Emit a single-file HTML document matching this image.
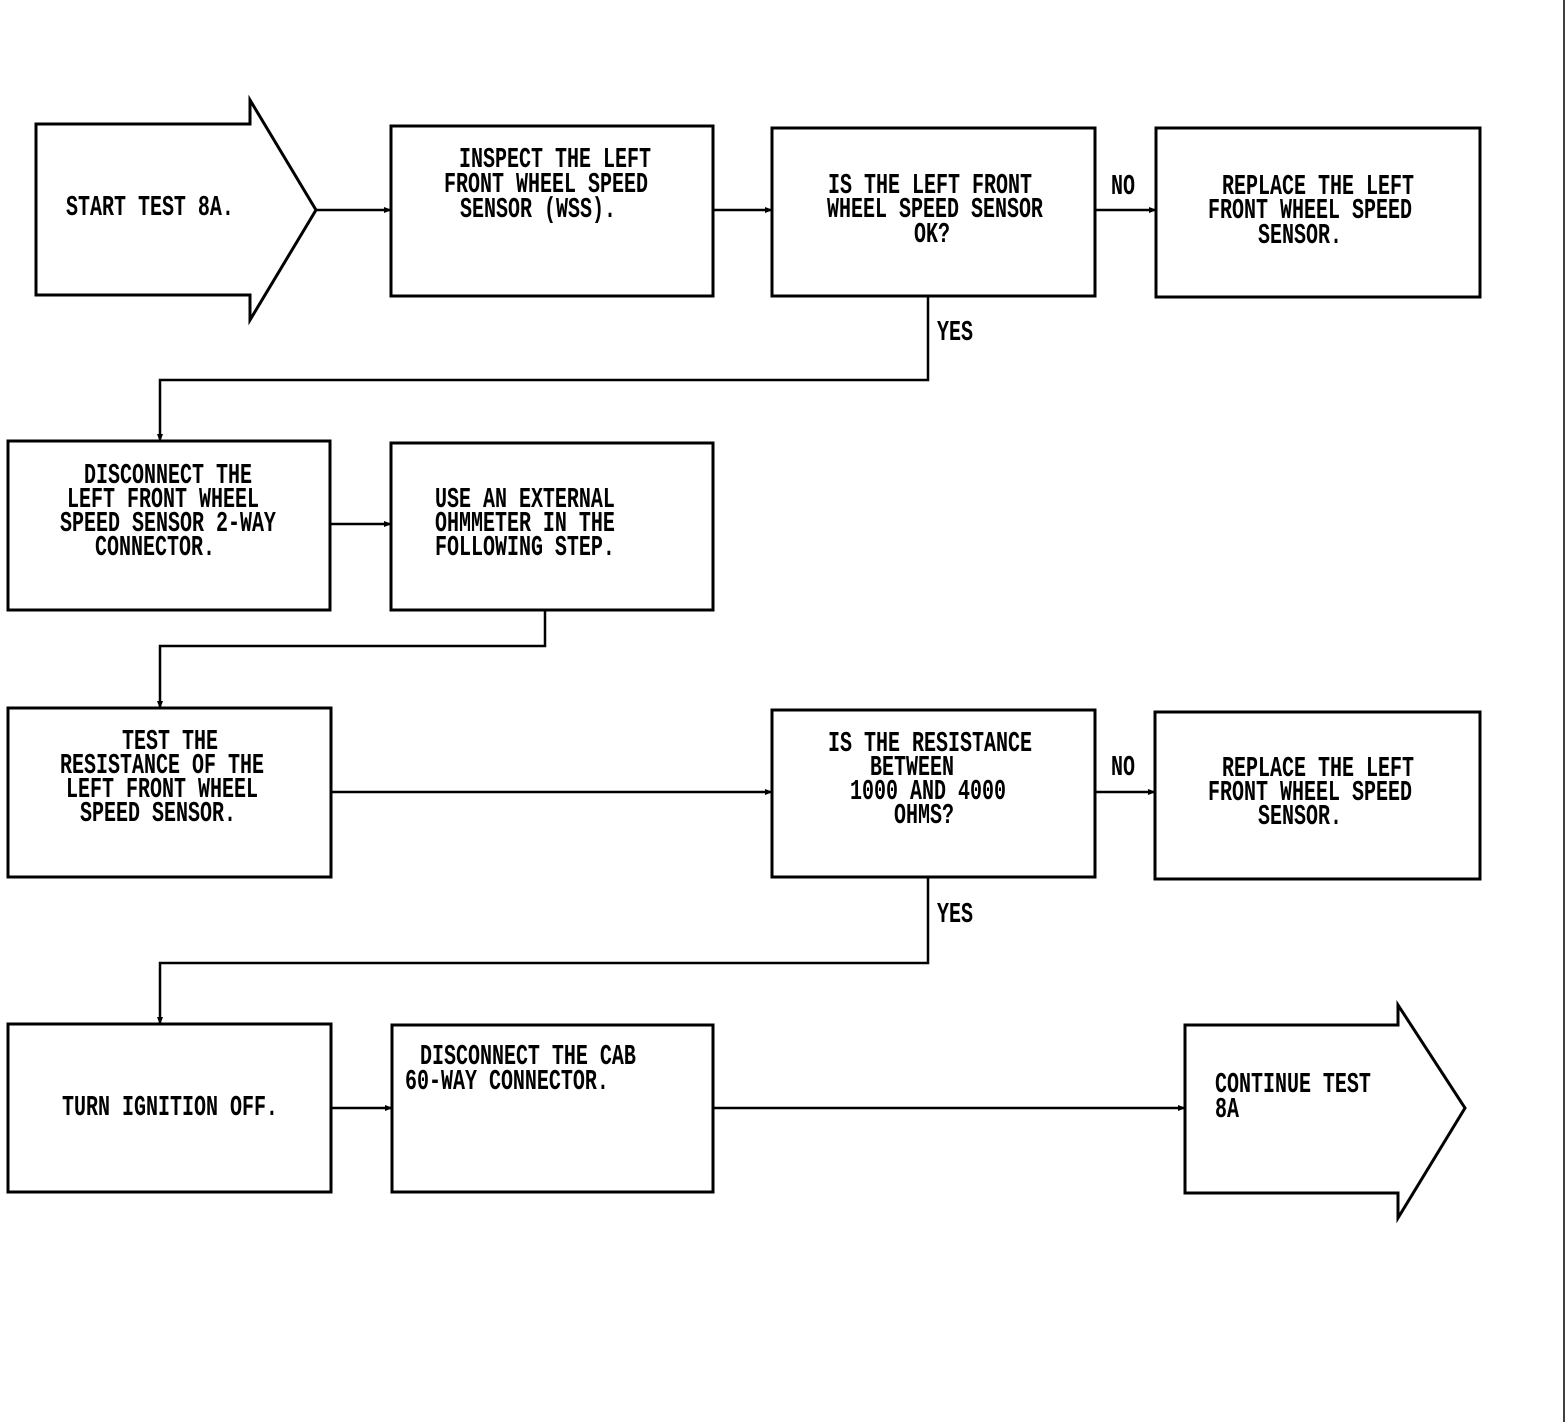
<!DOCTYPE html>
<html><head><meta charset="utf-8"><style>
html,body{margin:0;padding:0;background:#fff;}
svg{display:block;}
text{font-family:"Liberation Mono",monospace;font-weight:bold;font-size:20px;fill:#000;}
</style></head><body>
<svg width="1568" height="1422" viewBox="0 0 1568 1422" xmlns="http://www.w3.org/2000/svg">
<defs><marker id="a" markerWidth="8" markerHeight="8" refX="7" refY="4" orient="auto" markerUnits="userSpaceOnUse"><path d="M0,1 L8,4 L0,7 Z" fill="#000"/></marker></defs>
<g fill="none" stroke="#000" stroke-width="3">
<path d="M36,124 H250 V100 L316,210 L250,320 V295 H36 Z"/>
<rect x="391" y="126" width="322" height="170"/>
<rect x="772" y="128" width="323" height="168"/>
<rect x="1156" y="128" width="324" height="169"/>
<rect x="8" y="441" width="322" height="169"/>
<rect x="391" y="443" width="322" height="167"/>
<rect x="8" y="708" width="323" height="169"/>
<rect x="772" y="710" width="323" height="167"/>
<rect x="1155" y="712" width="325" height="167"/>
<rect x="8" y="1024" width="323" height="168"/>
<rect x="392" y="1025" width="321" height="167"/>
<path d="M1185,1025 H1398 V1005 L1465,1108 L1398,1218 V1193 H1185 Z"/>
</g>
<g fill="none" stroke="#000" stroke-width="2.5">
<path d="M316,210 H391" marker-end="url(#a)"/>
<path d="M713,210 H772" marker-end="url(#a)"/>
<path d="M1095,210 H1156" marker-end="url(#a)"/>
<path d="M928,296 V380 H160 V441" marker-end="url(#a)"/>
<path d="M330,524 H391" marker-end="url(#a)"/>
<path d="M545,610 V646 H160 V708" marker-end="url(#a)"/>
<path d="M331,792 H772" marker-end="url(#a)"/>
<path d="M1095,792 H1155" marker-end="url(#a)"/>
<path d="M928,877 V963 H160 V1024" marker-end="url(#a)"/>
<path d="M331,1108 H392" marker-end="url(#a)"/>
<path d="M713,1108 H1185" marker-end="url(#a)"/>
</g>
<line x1="1564" y1="0" x2="1564" y2="1422" stroke="#000" stroke-width="1.5"/>
<g dominant-baseline="central">
<text transform="translate(66,208) scale(1,1.45)">START TEST 8A.</text>
<g text-anchor="middle">
<text transform="translate(555,160) scale(1,1.45)">INSPECT THE LEFT</text>
<text transform="translate(546,185) scale(1,1.45)">FRONT WHEEL SPEED</text>
<text transform="translate(538,210) scale(1,1.45)">SENSOR (WSS).</text>
<text transform="translate(930,186) scale(1,1.45)">IS THE LEFT FRONT</text>
<text transform="translate(935,210) scale(1,1.45)">WHEEL SPEED SENSOR</text>
<text transform="translate(932,235) scale(1,1.45)">OK?</text>
<text transform="translate(1318,187) scale(1,1.45)">REPLACE THE LEFT</text>
<text transform="translate(1310,211) scale(1,1.45)">FRONT WHEEL SPEED</text>
<text transform="translate(1300,236) scale(1,1.45)">SENSOR.</text>
<text transform="translate(168,476) scale(1,1.45)">DISCONNECT THE</text>
<text transform="translate(163,500) scale(1,1.45)">LEFT FRONT WHEEL</text>
<text transform="translate(168,524) scale(1,1.45)">SPEED SENSOR 2-WAY</text>
<text transform="translate(155,548) scale(1,1.45)">CONNECTOR.</text>
<text transform="translate(170,742) scale(1,1.45)">TEST THE</text>
<text transform="translate(162,766) scale(1,1.45)">RESISTANCE OF THE</text>
<text transform="translate(162,790) scale(1,1.45)">LEFT FRONT WHEEL</text>
<text transform="translate(158,814) scale(1,1.45)">SPEED SENSOR.</text>
<text transform="translate(930,744) scale(1,1.45)">IS THE RESISTANCE</text>
<text transform="translate(912,768) scale(1,1.45)">BETWEEN</text>
<text transform="translate(928,792) scale(1,1.45)">1000 AND 4000</text>
<text transform="translate(924,816) scale(1,1.45)">OHMS?</text>
<text transform="translate(1318,769) scale(1,1.45)">REPLACE THE LEFT</text>
<text transform="translate(1310,793) scale(1,1.45)">FRONT WHEEL SPEED</text>
<text transform="translate(1300,817) scale(1,1.45)">SENSOR.</text>
<text transform="translate(170,1108) scale(1,1.45)">TURN IGNITION OFF.</text>
</g>
<text transform="translate(435,500) scale(1,1.45)">USE AN EXTERNAL</text>
<text transform="translate(435,524) scale(1,1.45)">OHMMETER IN THE</text>
<text transform="translate(435,548) scale(1,1.45)">FOLLOWING STEP.</text>
<text transform="translate(420,1057) scale(1,1.45)">DISCONNECT THE CAB</text>
<text transform="translate(405,1082) scale(1,1.45)">60-WAY CONNECTOR.</text>
<text transform="translate(1215,1085) scale(1,1.45)">CONTINUE TEST</text>
<text transform="translate(1215,1110) scale(1,1.45)">8A</text>
<text transform="translate(1111,187) scale(1,1.45)">NO</text>
<text transform="translate(1111,768) scale(1,1.45)">NO</text>
<text transform="translate(937,333) scale(1,1.45)">YES</text>
<text transform="translate(937,915) scale(1,1.45)">YES</text>
</g>
</svg>
</body></html>
